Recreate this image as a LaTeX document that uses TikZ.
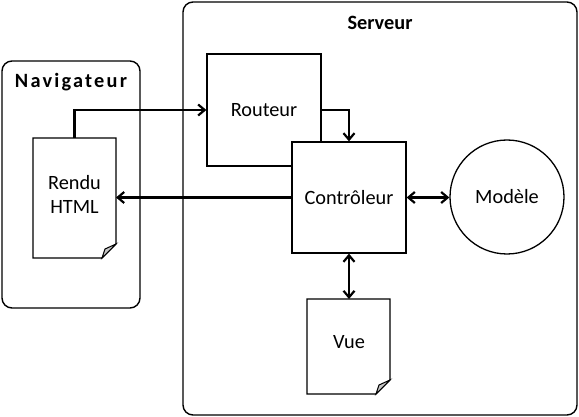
\documentclass[tikz,border=0pt]{standalone}
\usepackage{fontspec}
\setmainfont{Carlito}
\newfontfamily\spacedfont[LetterSpace=11]{Carlito}
\usetikzlibrary{arrows.meta,calc}
\begin{document}
\begin{tikzpicture}[x=1pt,y=-1pt,
  every node/.style={font=\fontsize{20.3}{24}\selectfont},
  frame/.style={draw, line width=1.4pt, rounded corners=10pt, inner sep=0pt},
  box/.style={draw, fill=white, line width=1.3pt, minimum width=114pt, minimum height=112pt, inner sep=0pt},
  docbox/.style={inner sep=0pt, outer sep=0pt, draw=none},
  docline/.style={draw, fill=white, line width=1.3pt},
  foldline/.style={draw, fill=gray!45, line width=1pt},
  tip/.tip={Straight Barb[length=6.5pt,width=11pt]},
  conn/.style={line width=2.2pt, -tip},
  both/.style={line width=2.2pt, tip-tip},
  lbl/.style={anchor=base, inner sep=0pt},
]
\useasboundingbox (0,0) rectangle (579,417);
% frames
\node[frame, minimum width=394pt, minimum height=413pt] (serv) at (380,208.5) {};
\node[frame, minimum width=138pt, minimum height=247pt] (nav) at (71,184.5) {};
\node[lbl, font=\spacedfont\bfseries\fontsize{20.3}{24}\selectfont] (navT) at (71,88) {Navigateur};
\node[lbl, font=\bfseries\fontsize{20.3}{24}\selectfont] (servT) at (380,30) {Serveur};
% boxes
\node[box] (routeur) at (264,110) {Routeur};
\node[box, minimum height=111pt] (ctrl) at (349,197.5) {Contrôleur};
\node[draw, circle, line width=1.3pt, minimum size=114pt, inner sep=0pt] (modele) at (507,197) {Modèle};
% documents
\node[docbox, minimum width=83pt, minimum height=120pt] (rendu) at (74.5,198) {};
\draw[docline] (rendu.north west) -- (rendu.north east) -- ($(rendu.south east)+(0,-14)$) -- ($(rendu.south east)+(-14,0)$) -- (rendu.south west) -- cycle;
\draw[foldline] ($(rendu.south east)+(0,-14)$) -- ($(rendu.south east)+(-11,-9)$) -- ($(rendu.south east)+(-14,0)$) -- cycle;
\node[align=center, inner sep=0pt] (renduT) at (74.5,194) {Rendu\\HTML};
\node[docbox, minimum width=83pt, minimum height=95pt] (vue) at (348.5,346.5) {};
\draw[docline] (vue.north west) -- (vue.north east) -- ($(vue.south east)+(0,-14)$) -- ($(vue.south east)+(-14,0)$) -- (vue.south west) -- cycle;
\draw[foldline] ($(vue.south east)+(0,-14)$) -- ($(vue.south east)+(-11,-9)$) -- ($(vue.south east)+(-14,0)$) -- cycle;
\node[lbl] (vueT) at (349,348) {Vue};
% connectors
\draw[conn] (rendu.north) |- (routeur.west);
\draw[conn] (routeur.east) -| (ctrl.north);
\draw[conn] (ctrl.west) -- (ctrl.west -| rendu.east);
\draw[both] (ctrl.east) -- (ctrl.east -| modele.west);
\draw[both] (ctrl.south) -- (ctrl.south |- vue.north);
\end{tikzpicture}
\end{document}
